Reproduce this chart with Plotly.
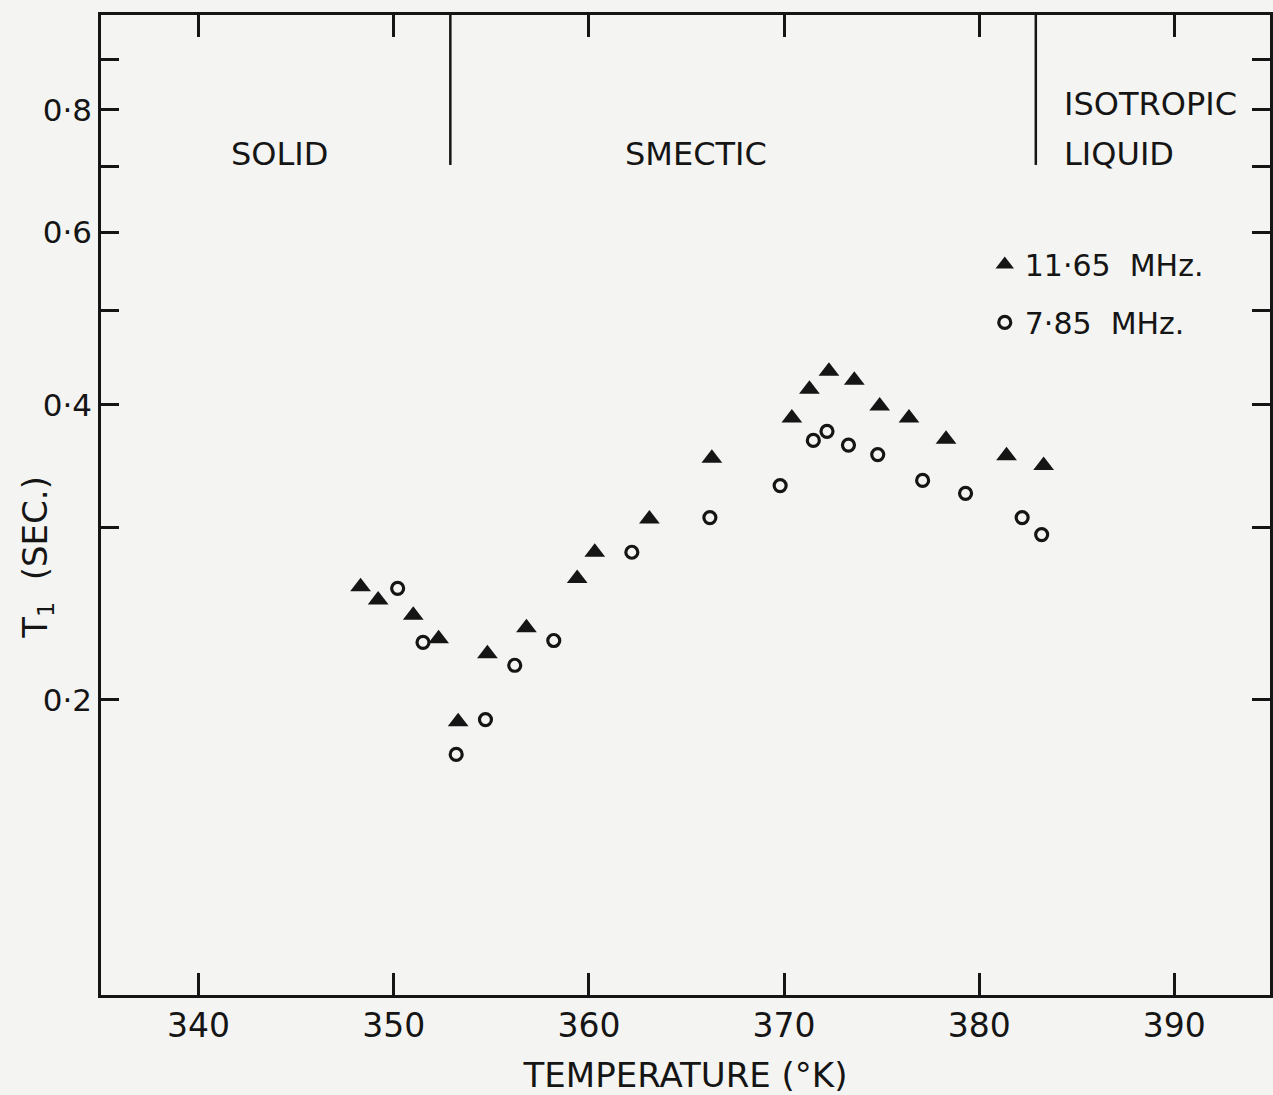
import plotly.graph_objects as go

# ---- data ----
temp_1165 = [348.3, 349.2, 351.0, 352.3, 353.3, 354.8, 356.8, 359.4, 360.3, 363.1,
             366.3, 370.4, 371.3, 372.3, 373.6, 374.9, 376.4, 378.3, 381.4, 383.3]
t1_1165 = [0.261, 0.253, 0.244, 0.231, 0.190, 0.223, 0.237, 0.266, 0.283, 0.306,
           0.353, 0.388, 0.415, 0.433, 0.424, 0.399, 0.388, 0.369, 0.355, 0.347]

temp_785 = [350.2, 351.5, 353.2, 354.7, 356.2, 358.2, 362.2, 366.2, 369.8, 371.5,
            372.2, 373.3, 374.8, 377.1, 379.3, 382.2, 383.2]
t1_785 = [0.260, 0.229, 0.176, 0.191, 0.217, 0.230, 0.283, 0.307, 0.331, 0.368,
          0.376, 0.364, 0.356, 0.335, 0.325, 0.307, 0.295]

phase_boundaries = [352.9, 382.9]

x_ticks = [340, 350, 360, 370, 380, 390]
y_ticks = [0.2, 0.3, 0.4, 0.5, 0.6, 0.7, 0.8, 0.9]
y_ticktext = ["0·2", "", "0·4", "", "0·6", "", "0·8", ""]

FONT = "DejaVu Sans"
INK = "#151515"
PAPER = "#f4f4f2"

fig = go.Figure()
fig.add_trace(go.Scatter(
    x=temp_1165, y=t1_1165, mode="markers", name="11·65  MHz.",
    legendgroup="a",
    marker=dict(symbol="triangle-up", size=18, color=INK),
))
fig.add_trace(go.Scatter(
    x=temp_785, y=t1_785, mode="markers", name="7·85  MHz.",
    legendgroup="b",
    marker=dict(symbol="circle-open", size=12, color=INK, line=dict(width=3.2, color=INK)),
))

for xb in phase_boundaries:
    fig.add_shape(type="line", xref="x", yref="paper", x0=xb, x1=xb, y0=0.847, y1=1.0,
                  line=dict(color=INK, width=2.5))

annots = [
    dict(text="SOLID", x=0.153, y=0.858, xanchor="center"),
    dict(text="SMECTIC", x=0.509, y=0.858, xanchor="center"),
    dict(text="ISOTROPIC", x=0.822, y=0.909, xanchor="left"),
    dict(text="LIQUID", x=0.822, y=0.858, xanchor="left"),
]
for a in annots:
    fig.add_annotation(xref="paper", yref="paper", showarrow=False, yanchor="middle",
                       font=dict(family=FONT, size=32, color=INK), **a)

fig.add_annotation(xref="paper", yref="paper", x=-0.075, y=0.447, showarrow=False,
                   text="T<sub>1</sub>  (SEC.)", textangle=-90,
                   font=dict(family=FONT, size=34, color=INK))

fig.update_xaxes(
    type="linear", range=[335.0, 394.9],
    showline=True, linewidth=2.5, linecolor=INK, mirror="ticks",
    ticks="inside", ticklen=22, tickwidth=2.5, tickcolor=INK,
    tickvals=x_ticks, ticktext=[str(v) for v in x_ticks],
    tickfont=dict(family=FONT, size=33, color=INK),
    showgrid=False, zeroline=False,
    title=dict(text="TEMPERATURE (°K)", font=dict(family=FONT, size=34, color=INK), standoff=20),
)
fig.update_yaxes(
    type="log", range=[-1, 0],
    showline=True, linewidth=2.5, linecolor=INK, mirror="ticks",
    ticks="inside", ticklen=18, tickwidth=2.5, tickcolor=INK,
    tickvals=y_ticks, ticktext=y_ticktext,
    tickfont=dict(family=FONT, size=31, color=INK),
    showgrid=False, zeroline=False,
)

fig.update_layout(
    width=1273, height=1095,
    margin=dict(l=101, r=0, t=15, b=100),
    paper_bgcolor=PAPER, plot_bgcolor=PAPER,
    font=dict(family=FONT, color=INK),
    showlegend=True,
    legend=dict(x=0.756, y=0.772, xanchor="left", yanchor="top",
                bgcolor="rgba(0,0,0,0)", font=dict(family=FONT, size=30, color=INK),
                tracegroupgap=16, itemsizing="trace", traceorder="grouped"),
)

fig.write_html(
    "out.html",
    config={"displayModeBar": False},
    post_script="document.body.style.margin='0';document.body.style.overflow='hidden';"
                "document.body.style.background='" + PAPER + "';",
)
